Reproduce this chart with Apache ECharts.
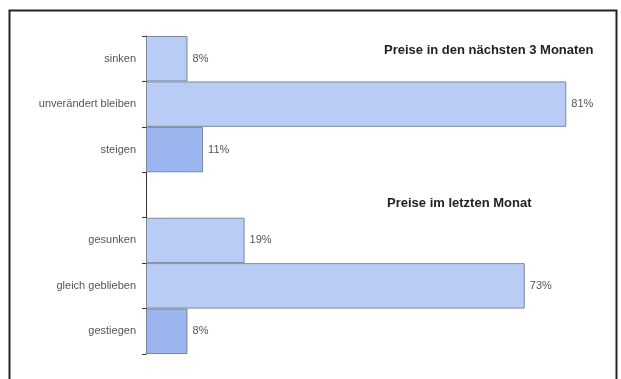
<!DOCTYPE html>
<html>
<head>
<meta charset="utf-8">
<script src="https://cdn.jsdelivr.net/npm/echarts@6/dist/echarts.min.js"></script>
<style>
html,body{margin:0;padding:0;background:#fff;}
#c{width:621px;height:379px;}
</style>
</head>
<body>
<div id="c"></div>
<script>
const categories = ['sinken', 'unverändert bleiben', 'steigen', '', 'gesunken', 'gleich geblieben', 'gestiegen'];
const values = [8, 81, 11, null, 19, 73, 8];
const valueLabels = ['8%', '81%', '11%', '', '19%', '73%', '8%'];
const groupTitles = ['Preise in den nächsten 3 Monaten', 'Preise im letzten Monat'];
const risingCats = ['steigen', 'gestiegen'];

const FONT = '"Liberation Sans", Arial, sans-serif';
const chart = echarts.init(document.getElementById('c'), null, {renderer: 'canvas'});
chart.setOption({
  animation: false,
  backgroundColor: '#fff',
  title: [
    {text: groupTitles[0], left: 384, top: 44, padding: 0,
     textStyle: {fontFamily: FONT, fontSize: 13, fontWeight: 'bold', color: '#222'}},
    {text: groupTitles[1], left: 387, top: 197, padding: 0,
     textStyle: {fontFamily: FONT, fontSize: 13, fontWeight: 'bold', color: '#222'}}
  ],
  grid: {left: 146, top: 36, width: 467, height: 318, containLabel: false},
  xAxis: {
    type: 'value', min: 0, max: 90, show: false
  },
  yAxis: {
    type: 'category', data: categories, inverse: true,
    axisLine: {show: true, lineStyle: {color: '#333', width: 1}},
    axisTick: {show: true, length: 4, lineStyle: {color: '#333'}},
    axisLabel: {fontFamily: FONT, fontSize: 11, color: '#555', margin: 10},
    splitLine: {show: false}
  },
  series: [{
    type: 'bar',
    barCategoryGap: 0,
    data: values.map((v, i) => ({
      value: v,
      label: {formatter: valueLabels[i]},
      itemStyle: {color: risingCats.includes(categories[i]) ? '#9bb6ee' : '#b8ccf6'}
    })),
    itemStyle: {borderColor: '#7d8799', borderWidth: 1},
    label: {show: true, position: 'right', distance: 5, fontFamily: FONT, fontSize: 11, color: '#555'}
  }],
  graphic: [{
    type: 'rect', silent: true,
    shape: {x: 9.5, y: 10.5, width: 607, height: 420},
    style: {fill: null, stroke: '#222', lineWidth: 2}
  }]
});
</script>
</body>
</html>
